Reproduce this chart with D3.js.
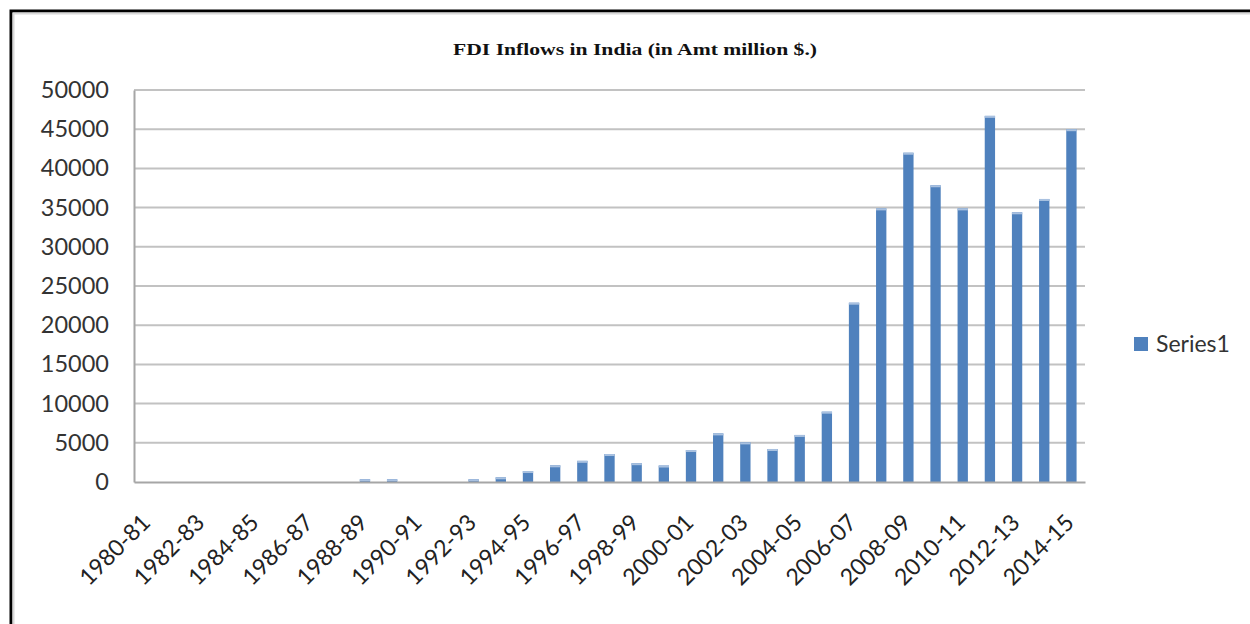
<!DOCTYPE html>
<html>
<head>
<meta charset="utf-8">
<script src="https://cdn.jsdelivr.net/npm/d3@7"></script>
<style>
  html, body { margin: 0; padding: 0; background: #fff; }
  svg { display: block; }
</style>
</head>
<body>
<svg id="chart" width="1250" height="624"></svg>
<script>
const categories = ["1980-81","1981-82","1982-83","1983-84","1984-85","1985-86","1986-87","1987-88",
  "1988-89","1989-90","1990-91","1991-92","1992-93","1993-94","1994-95","1995-96","1996-97",
  "1997-98","1998-99","1999-00","2000-01","2001-02","2002-03","2003-04","2004-05","2005-06",
  "2006-07","2007-08","2008-09","2009-10","2010-11","2011-12","2012-13","2013-14","2014-15"];
const series1 = [0,0,0,0,0,0,0,0,
  350,350,0,0,350,600,1400,2130,2700,
  3570,2400,2100,4080,6200,5050,4210,6000,8970,
  22870,34900,42000,37850,34900,46700,34400,36100,45000];
const yTicks = [0,5000,10000,15000,20000,25000,30000,35000,40000,45000,50000];
const tickLabels = categories.filter((d,i) => i % 2 === 0);
const titleText = "FDI Inflows  in India (in Amt million $.)";
const seriesName = "Series1";

(function(){
const svg = d3.select("#chart");
const pLeft = 134, pRight = 1085, pTop = 90, pBottom = 482;
const font = "Lato, 'Open Sans', sans-serif";

const x = d3.scaleBand().domain(categories).range([pLeft, pRight]).paddingInner(0.62).paddingOuter(0.31);
const y = d3.scaleLinear().domain([0, 50000]).range([pBottom, pTop]);

// outer frame (black left + top border)
svg.append("path").attr("d", `M11,624 V11 H1250`).attr("fill","none")
  .attr("stroke","#000").attr("stroke-width",3);
svg.append("path").attr("d", `M13.5,624 V13.5 H1250`).attr("fill","none")
  .attr("stroke","#d8d8d8").attr("stroke-width",2);

// title
svg.append("text").attr("x", 635).attr("y", 55).attr("text-anchor","middle")
  .attr("font-family","'Liberation Serif', 'DejaVu Serif', serif").attr("font-weight","bold")
  .attr("font-size", 17).attr("fill","#111")
  .attr("textLength", 364).attr("lengthAdjust","spacingAndGlyphs")
  .text(titleText);

// gridlines
svg.append("g").selectAll("line").data(yTicks.filter(d => d > 0)).join("line")
  .attr("x1", pLeft).attr("x2", pRight)
  .attr("y1", d => y(d)).attr("y2", d => y(d))
  .attr("stroke","#c2c2c2").attr("stroke-width",2);

// y axis
const yAxis = d3.axisLeft(y).tickValues(yTicks).tickSize(0).tickPadding(25).tickFormat(d3.format("d"));
const gy = svg.append("g").attr("transform", `translate(${pLeft},0)`).call(yAxis);
gy.select(".domain").attr("stroke","#a6a6a6").attr("stroke-width",2);
gy.selectAll("text").attr("font-family", font).attr("font-size", 23.5).attr("fill","#333");

// bars
const bars = svg.append("g");
bars.selectAll("rect.bar").data(categories).join("rect").attr("class","bar")
  .attr("x", d => x(d)).attr("width", x.bandwidth())
  .attr("y", (d,i) => y(series1[i])).attr("height", (d,i) => y(0) - y(series1[i]))
  .attr("fill","#4f81bd");
bars.selectAll("rect.hl").data(categories).join("rect").attr("class","hl")
  .attr("x", d => x(d)).attr("width", x.bandwidth())
  .attr("y", (d,i) => y(series1[i])).attr("height", (d,i) => Math.min(2, y(0) - y(series1[i])))
  .attr("fill","#a9c1e0");

// x axis baseline
const xAxis = d3.axisBottom(x).tickValues(tickLabels).tickSize(0).tickFormat(d => d);
const gx = svg.append("g").attr("transform", `translate(0,${pBottom})`).call(xAxis);
gx.select(".domain").attr("stroke","#a6a6a6").attr("stroke-width",2);
gx.selectAll("text")
  .attr("font-family", font).attr("font-size", 23).attr("fill","#222")
  .attr("text-anchor","end")
  .attr("y", 0).attr("dy", 0)
  .attr("transform", `translate(4,42) rotate(-45)`);

// legend
const lg = svg.append("g");
lg.append("rect").attr("x", 1134).attr("y", 337).attr("width", 14).attr("height", 14).attr("fill","#4f81bd");
lg.append("text").attr("x", 1156).attr("y", 351.5).attr("font-family", font).attr("font-size", 23)
  .attr("fill","#333").text(seriesName);
})();
</script>
</body>
</html>
